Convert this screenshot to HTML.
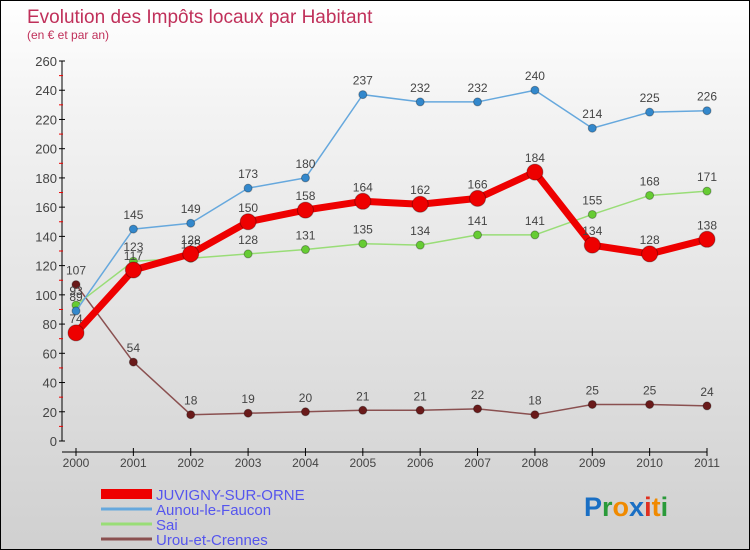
<!DOCTYPE html>
<html><head><meta charset="utf-8"><style>
body{margin:0}
#wrap{position:relative;width:748px;height:548px;border:1px solid #000;background:linear-gradient(#fff,#f3f3f3 20%,#d0d0d0);font-family:"Liberation Sans",sans-serif;overflow:hidden}
svg text{font-family:"Liberation Sans",sans-serif}
</style></head><body>
<div id="wrap">
<svg id="chart" width="748" height="548">
<text x="26" y="22" font-size="19" fill="#c0305a">Evolution des Impôts locaux par Habitant</text>
<text x="26" y="38" font-size="12" fill="#c0305a">(en € et par an)</text>
<g id="axes"></g><g id="series"></g><g id="legend"></g>
<text x="583" y="515" font-size="27" font-weight="bold"><tspan fill="#1a6fc4">P</tspan><tspan fill="#2a9a3a">r</tspan><tspan fill="#f08a00">o</tspan><tspan fill="#1a6fc4">x</tspan><tspan fill="#e03020">i</tspan><tspan fill="#f08a00">t</tspan><tspan fill="#2a9a3a">i</tspan></text>
</svg></div>
<script>
const years=[2000,2001,2002,2003,2004,2005,2006,2007,2008,2009,2010,2011];
const juvigny=[74,117,128,150,158,164,162,166,184,134,128,138];
const aunou=[89,145,149,173,180,237,232,232,240,214,225,226];
const sai=[93,123,125,128,131,135,134,141,141,155,168,171];
const urou=[107,54,18,19,20,21,21,22,18,25,25,24];
const yTicks=[0,20,40,60,80,100,120,140,160,180,200,220,240,260];
const NS="http://www.w3.org/2000/svg";
const X=i=>75+i*(706-75)/11, Y=v=>440-v*380/260;
function mk(t,a,p){const e=document.createElementNS(NS,t);for(const k in a)e.setAttribute(k,a[k]);p.appendChild(e);return e;}
const ax=document.getElementById('axes');
let l=mk('line',{x1:61,y1:Y(260),x2:61,y2:440,stroke:'#000'},ax);


l=mk('line',{x1:61,y1:451,x2:706,y2:451,stroke:'#000'},ax);


yTicks.forEach(v=>{
 mk('line',{x1:58,x2:64,y1:Y(v),y2:Y(v),stroke:'#000'},ax);
 if(v<260)mk('line',{x1:58,x2:62,y1:Y(v+10),y2:Y(v+10),stroke:'#e00'},ax);
 const t=mk('text',{x:56,y:Y(v)+5,'font-size':13,fill:'#444','text-anchor':'end'},ax);t.textContent=v;
 
 
});
years.forEach((y,i)=>{
 mk('line',{x1:X(i),x2:X(i),y1:447,y2:455,stroke:'#000'},ax);
 const t=mk('text',{x:X(i),y:466,'font-size':12,fill:'#444','text-anchor':'middle'},ax);t.textContent=y;
 
 
});
const sg=document.getElementById('series');
const S=[[urou,'#6a1a1a','#8a5050',1.5,4,'urou'],[sai,'#66cc33','#99dd77',1.5,4,'sai'],[aunou,'#3388cc','#66a8dd',1.5,4,'aunou'],[juvigny,'#ee0000','#ee0000',7,8,'juvigny']];
S.forEach(([d,c,lc,w,r,n])=>{
 const p=mk('polyline',{points:d.map((v,i)=>X(i)+','+Y(v)).join(' '),fill:'none',stroke:lc,'stroke-width':w,'stroke-linejoin':'round'},sg);
 
 
 d.forEach((v,i)=>{
  const c2=mk('circle',{cx:X(i),cy:Y(v),r:r,fill:c,stroke:'rgba(0,0,0,0.3)'},sg);
  
  
  const t=mk('text',{x:X(i),y:Y(v)-10,'font-size':12,fill:'#444','text-anchor':'middle'},sg);t.textContent=v;
  
  
 });
});
const lg=document.getElementById('legend');
[['JUVIGNY-SUR-ORNE','#ee0000',10],['Aunou-le-Faucon','#66a8dd',3],['Sai','#99dd77',3],['Urou-et-Crennes','#8a5050',3]].forEach(([n,c,w],k)=>{
 const y=493+k*15;
 const li=mk('line',{x1:100,x2:151,y1:y,y2:y,stroke:c,'stroke-width':w},lg);
 
 
 const t=mk('text',{x:155,y:y+6,'font-size':15,fill:'#5555ee'},lg);t.textContent=n;
 
 
});
</script>
</body></html>
